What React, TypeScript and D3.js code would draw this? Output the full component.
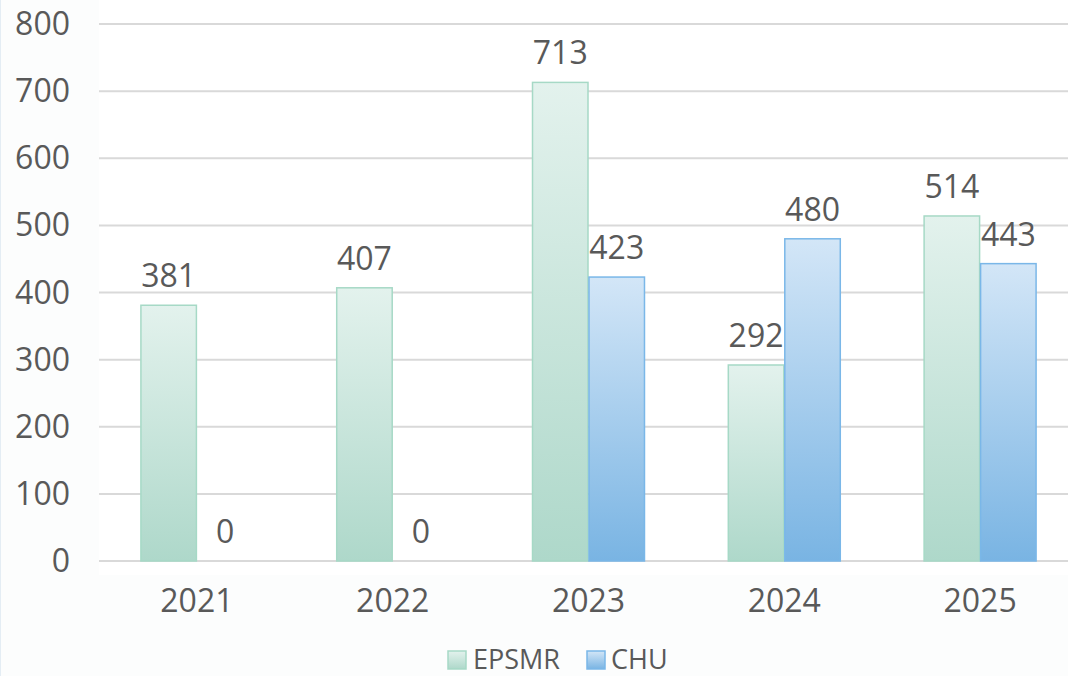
import React from "react";
import * as d3 from "d3";

const categories = ["2021", "2022", "2023", "2024", "2025"];
const seriesNames = ["EPSMR", "CHU"];
const epsmrValues = [381, 407, 713, 292, 514];
const chuValues = [0, 0, 423, 480, 443];
const yTicks = [0, 100, 200, 300, 400, 500, 600, 700, 800];

const W = 1068;
const H = 676;
const FONT = "'Open Sans', 'Liberation Sans', sans-serif";
const TEXT = "#595959";

export default function App() {
  const x0 = d3.scaleBand<string>().domain(categories).range([99, 1078]).paddingInner(0.423).paddingOuter(0.2115);
  const x1 = d3.scaleBand<string>().domain(seriesNames).range([0, x0.bandwidth()]);
  const y = d3.scaleLinear().domain([0, 800]).range([561, 24]);
  const series = [
    { name: "EPSMR", values: epsmrValues, grad: "gEpsmr", stroke: "#A6D9C6" },
    { name: "CHU", values: chuValues, grad: "gChu", stroke: "#7AB7E8" },
  ];
  return (
    <div style={{ position: "fixed", left: 0, top: 0, width: W, height: H }}>
      <svg width={W} height={H} style={{ display: "block" }}>
        <defs>
          <linearGradient id="gEpsmr" x1="0" y1="0" x2="0" y2="1" gradientUnits="objectBoundingBox">
            <stop offset="0" stopColor="#E3F2ED" />
            <stop offset="1" stopColor="#AED8CA" />
          </linearGradient>
          <linearGradient id="gChu" x1="0" y1="0" x2="0" y2="1" gradientUnits="objectBoundingBox">
            <stop offset="0" stopColor="#D3E6F7" />
            <stop offset="1" stopColor="#79B4E3" />
          </linearGradient>
        </defs>
        <rect x={0} y={0} width={W} height={H} fill="#FCFDFD" />
        <rect x={0} y={0} width={1} height={H} fill="#E4EDF4" />
        <rect x={99} y={0} width={W - 99} height={575} fill="#FFFFFF" />
        {yTicks.map((t) => (
          <g key={t}>
            <line x1={99} x2={W} y1={y(t)} y2={y(t)} stroke="#D9D9D9" strokeWidth={2} />
            <text x={70} y={y(t) + 11} textAnchor="end" fontFamily={FONT} fontSize={32} fill={TEXT}>
              {t}
            </text>
          </g>
        ))}
        {series.map((s) =>
          categories.map((c, i) => {
            const v = s.values[i];
            const bx = (x0(c) as number) + (x1(s.name) as number);
            const bw = x1.bandwidth();
            return (
              <g key={s.name + c}>
                {v > 0 && (
                  <rect
                    x={bx + 0.5}
                    y={y(v)}
                    width={bw - 1}
                    height={y(0) - y(v)}
                    fill={`url(#${s.grad})`}
                    stroke={s.stroke}
                    strokeWidth={1.5}
                  />
                )}
                <text x={bx + bw / 2} y={y(v) - 18} textAnchor="middle" fontFamily={FONT} fontSize={32} fill={TEXT}>
                  {v}
                </text>
              </g>
            );
          })
        )}
        {categories.map((c) => (
          <text
            key={c}
            x={(x0(c) as number) + x0.bandwidth() / 2}
            y={612}
            textAnchor="middle"
            fontFamily={FONT}
            fontSize={32}
            fill={TEXT}
          >
            {c}
          </text>
        ))}
        <g>
          <rect x={448} y={651} width={18} height={18} fill="url(#gEpsmr)" stroke="#A6D9C6" strokeWidth={1.5} />
          <text x={473} y={669} fontFamily={FONT} fontSize={27} fill={TEXT}>
            {seriesNames[0]}
          </text>
          <rect x={587} y={651} width={18} height={18} fill="url(#gChu)" stroke="#7AB7E8" strokeWidth={1.5} />
          <text x={611} y={669} fontFamily={FONT} fontSize={27} fill={TEXT}>
            {seriesNames[1]}
          </text>
        </g>
      </svg>
    </div>
  );
}
